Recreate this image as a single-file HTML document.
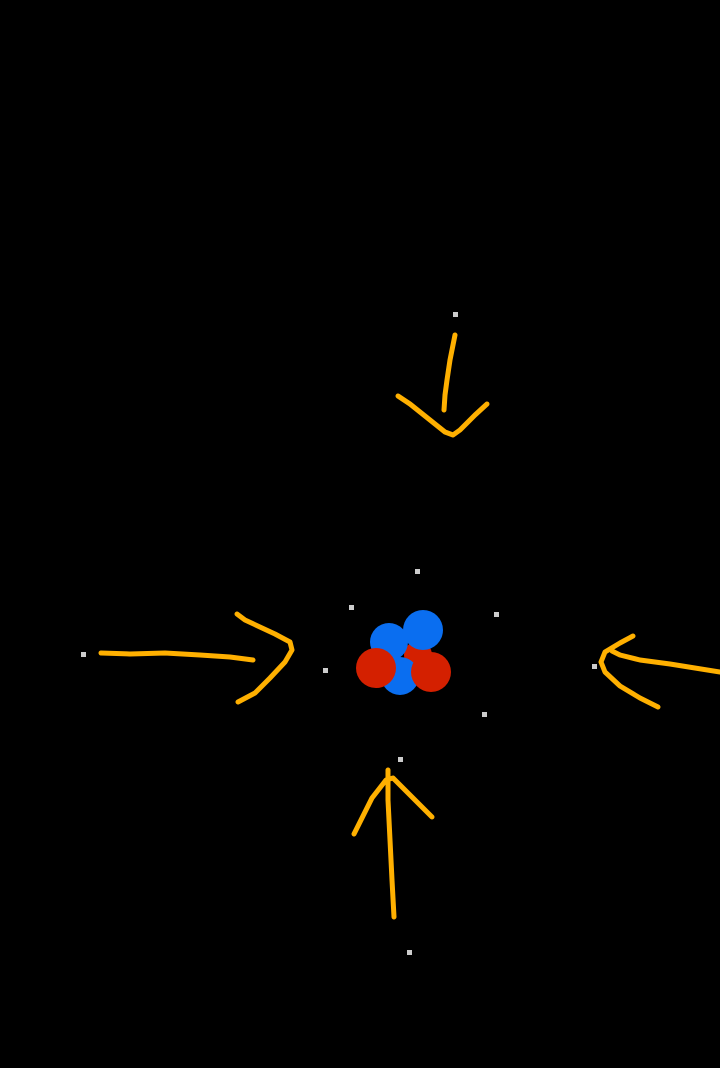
<!DOCTYPE html>
<html><head><style>html,body{margin:0;padding:0;background:#000;}svg{display:block}</style></head>
<body>
<svg width="720" height="1068" viewBox="0 0 720 1068">
<rect width="720" height="1068" fill="#000"/>
<g fill="#ccc">
<rect x="453" y="312" width="5" height="5"/>
<rect x="415" y="569" width="5" height="5"/>
<rect x="349" y="605" width="5" height="5"/>
<rect x="494" y="612" width="5" height="5"/>
<rect x="81" y="652" width="5" height="5"/>
<rect x="323" y="668" width="5" height="5"/>
<rect x="592" y="664" width="5" height="5"/>
<rect x="482" y="712" width="5" height="5"/>
<rect x="398" y="757" width="5" height="5"/>
<rect x="407" y="950" width="5" height="5"/>
</g>
<g fill="none" stroke="#ffb000" stroke-width="5" stroke-linecap="round" stroke-linejoin="round">
<path d="M455 335 L450 360 L447 380 L445 395 L444 410"/>
<path d="M398 396 L410 404 L430 420 L445 432 L453 435 L460 430 L475 415 L487 404"/>
<path d="M101 653 L130 654 L165 653 L200 655 L230 657 L253 660"/>
<path d="M237 614 L245 620 L275 634 L290 642 L292 650 L285 662 L270 678 L255 693 L238 702"/>
<path d="M720 672 L670 664 L640 660 L620 655 L612 651"/>
<path d="M633 636 L620 643 L605 652 L601 662 L605 672 L620 686 L640 698 L658 707"/>
<path d="M394 917 L392 880 L390 840 L388 800 L388 770"/>
<path d="M354 834 L362 818 L372 798 L386 780 L393 778 L408 793 L432 817"/>
</g>
<circle cx="418" cy="655" r="14" fill="#d42000"/>
<circle cx="400" cy="676" r="19" fill="#0a6ef0"/>
<circle cx="389" cy="642" r="19" fill="#0a6ef0"/>
<circle cx="423" cy="630" r="20" fill="#0a6ef0"/>
<circle cx="376" cy="668" r="20" fill="#d42000"/>
<circle cx="431" cy="672" r="20" fill="#d42000"/>
</svg>
</body></html>
